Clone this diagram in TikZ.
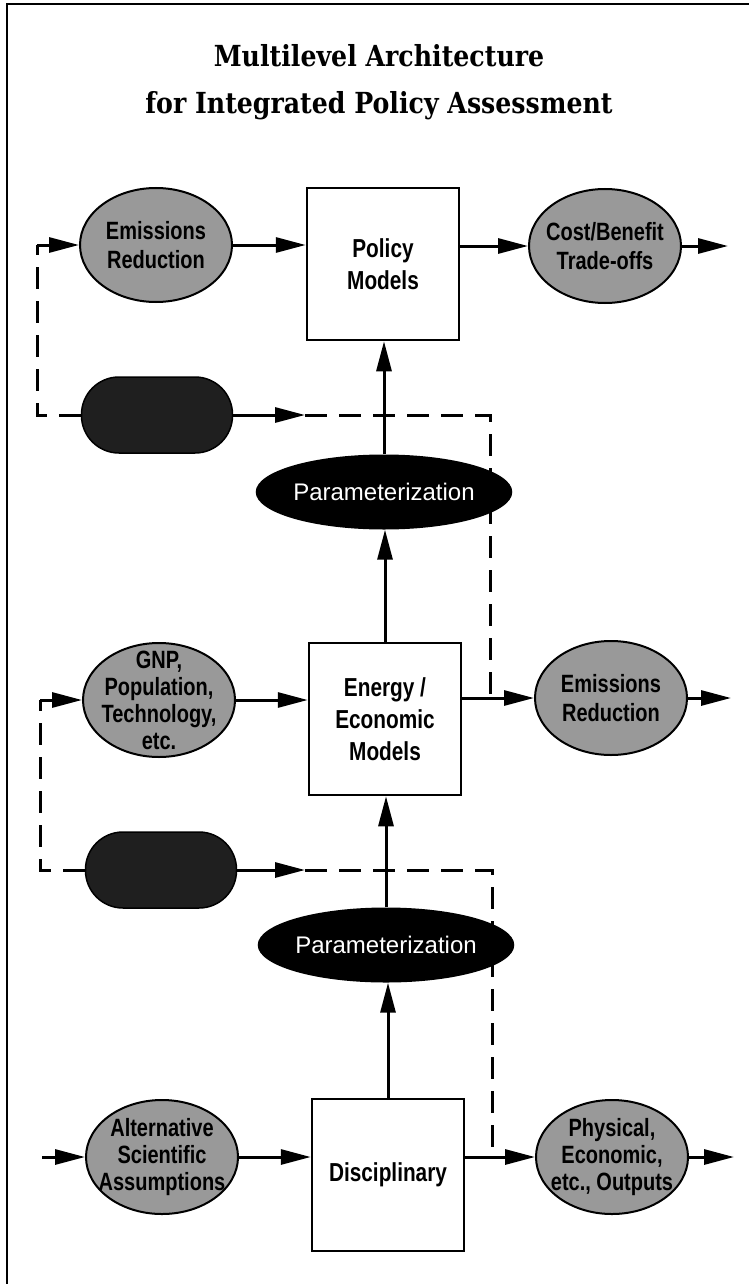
\documentclass[tikz,border=0pt]{standalone}
\usepackage{fontspec}
\newfontfamily\narrowsans[FakeStretch=0.8]{Liberation Sans}
\newfontfamily\plainsans{Liberation Sans}
\newfontfamily\titleserif[FakeStretch=0.87]{DejaVu Serif}
\usetikzlibrary{arrows.meta,shapes.geometric}

\begin{document}
\begin{tikzpicture}[x=1pt,y=-1pt,
  flow/.style={line width=3pt,-{Triangle[length=30pt,width=15pt]}},
  feedback/.style={line width=3pt,dash pattern=on 22pt off 12pt},
  ovaltext/.style={align=center,font=\narrowsans\bfseries\fontsize{25}{29}\selectfont},
  ovaltextdense/.style={align=center,font=\narrowsans\bfseries\fontsize{25}{27}\selectfont},
  inputoval/.style={ellipse,draw,line width=2pt,fill=black!40,
    minimum width=152pt,minimum height=114pt,inner sep=0pt},
  modelbox/.style={rectangle,draw,line width=2.5pt,fill=white,
    minimum width=152pt,minimum height=152pt,align=center,
    font=\narrowsans\bfseries\fontsize{26}{32}\selectfont},
  paramoval/.style={ellipse,fill=black,minimum width=192pt,minimum height=75pt,
    inner sep=0pt,text=white,font=\plainsans\fontsize{24}{28}\selectfont},
  shadedbox/.style={rectangle,draw,line width=1.5pt,fill=black!88,
    rounded corners=37.5pt,minimum width=151pt,minimum height=76pt}]

\useasboundingbox (0,0) rectangle (755,1284);
\fill[white] (0,0) rectangle (755,1284);

% page frame (top and left rules)
\draw[line width=2pt] (7,1284) -- (7,4) -- (749,4);

% title, two lines
\node[font=\titleserif\bfseries\fontsize{29}{47}\selectfont,align=center] (title) at (379,82)
  {Multilevel Architecture\\for\ Integrated\ Policy\ Assessment};

% ---- level 1: policy ----
\node[inputoval,label={[ovaltext]center:{Emissions\\Reduction}}] (er1) at (156,245) {};
\node[modelbox] (pm) at (383,264) {Policy\\Models};
\node[inputoval,label={[ovaltext]center:{Cost/Benefit\\Trade-offs}}] (cb) at (605,246) {};
\coordinate (out1) at (728,246);

\node[shadedbox] (sb1) at (157,415) {};
\node[paramoval] (par1) at (384,492) {Parameterization};

% ---- level 2: energy / economic ----
\node[inputoval,label={[ovaltextdense]center:{GNP,\\Population,\\Technology,\\etc.}}] (gnp) at (159,700) {};
\node[modelbox] (em) at (385,719) {Energy /\\Economic\\Models};
\node[inputoval,label={[ovaltext]center:{Emissions\\Reduction}}] (er2) at (611,698) {};
\coordinate (out2) at (731,698);

\node[shadedbox] (sb2) at (161,870) {};
\node[paramoval] (par2) at (386,945) {Parameterization};

% ---- level 3: disciplinary ----
\node[inputoval,label={[ovaltextdense]center:{Alternative\\Scientific\\Assumptions}}] (alt) at (162,1157) {};
\node[modelbox] (dm) at (388,1175) {Disciplinary};
\node[inputoval,label={[ovaltextdense]center:{Physical,\\Economic,\\etc., Outputs}}] (phy) at (612,1157) {};
\coordinate (in3) at (42,1157);
\coordinate (out3) at (734,1157);

% horizontal flows
\draw[flow] (er1.east) -- (er1.east -| pm.west);
\draw[flow] (pm.east |- cb.west) -- (cb.west);
\draw[flow] (cb.east) -- (out1);

\draw[flow] (gnp.east) -- (gnp.east -| em.west);
\draw[flow] (em.east |- er2.west) -- (er2.west);
\draw[flow] (er2.east) -- (out2);

\draw[flow] (in3) -- (alt.west);
\draw[flow] (alt.east) -- (alt.east -| dm.west);
\draw[flow] (dm.east |- phy.west) -- (phy.west);
\draw[flow] (phy.east) -- (out3);

% vertical flows
\draw[flow] (dm.north) -- (dm.north |- par2.south);
\draw[flow] (par2.north) -- (par2.north |- em.south);
\draw[flow] (em.north) -- (em.north |- par1.south);
\draw[flow] (par1.north) -- (par1.north |- pm.south);

% feedback loop, level 1
\coordinate (fbL1a) at (37,415);
\coordinate (fbL1b) at (37,245);
\coordinate (tip1) at (305,415);
\coordinate (fbR1) at (490,415);
\coordinate (join1) at (490,698);
\draw[feedback] (sb1.west) -- (fbL1a) -- (fbL1b);
\draw[flow] (fbL1b) -- (er1.west);
\draw[flow] (sb1.east) -- (tip1);
\draw[feedback] (tip1) -- (fbR1) -- (join1);

% feedback loop, level 2
\coordinate (fbL2a) at (40,870);
\coordinate (fbL2b) at (40,700);
\coordinate (tip2) at (305,870);
\coordinate (fbR2) at (492,870);
\coordinate (join2) at (492,1157);
\draw[feedback] (sb2.west) -- (fbL2a) -- (fbL2b);
\draw[flow] (fbL2b) -- (gnp.west);
\draw[flow] (sb2.east) -- (tip2);
\draw[feedback] (tip2) -- (fbR2) -- (join2);

\end{tikzpicture}
\end{document}
